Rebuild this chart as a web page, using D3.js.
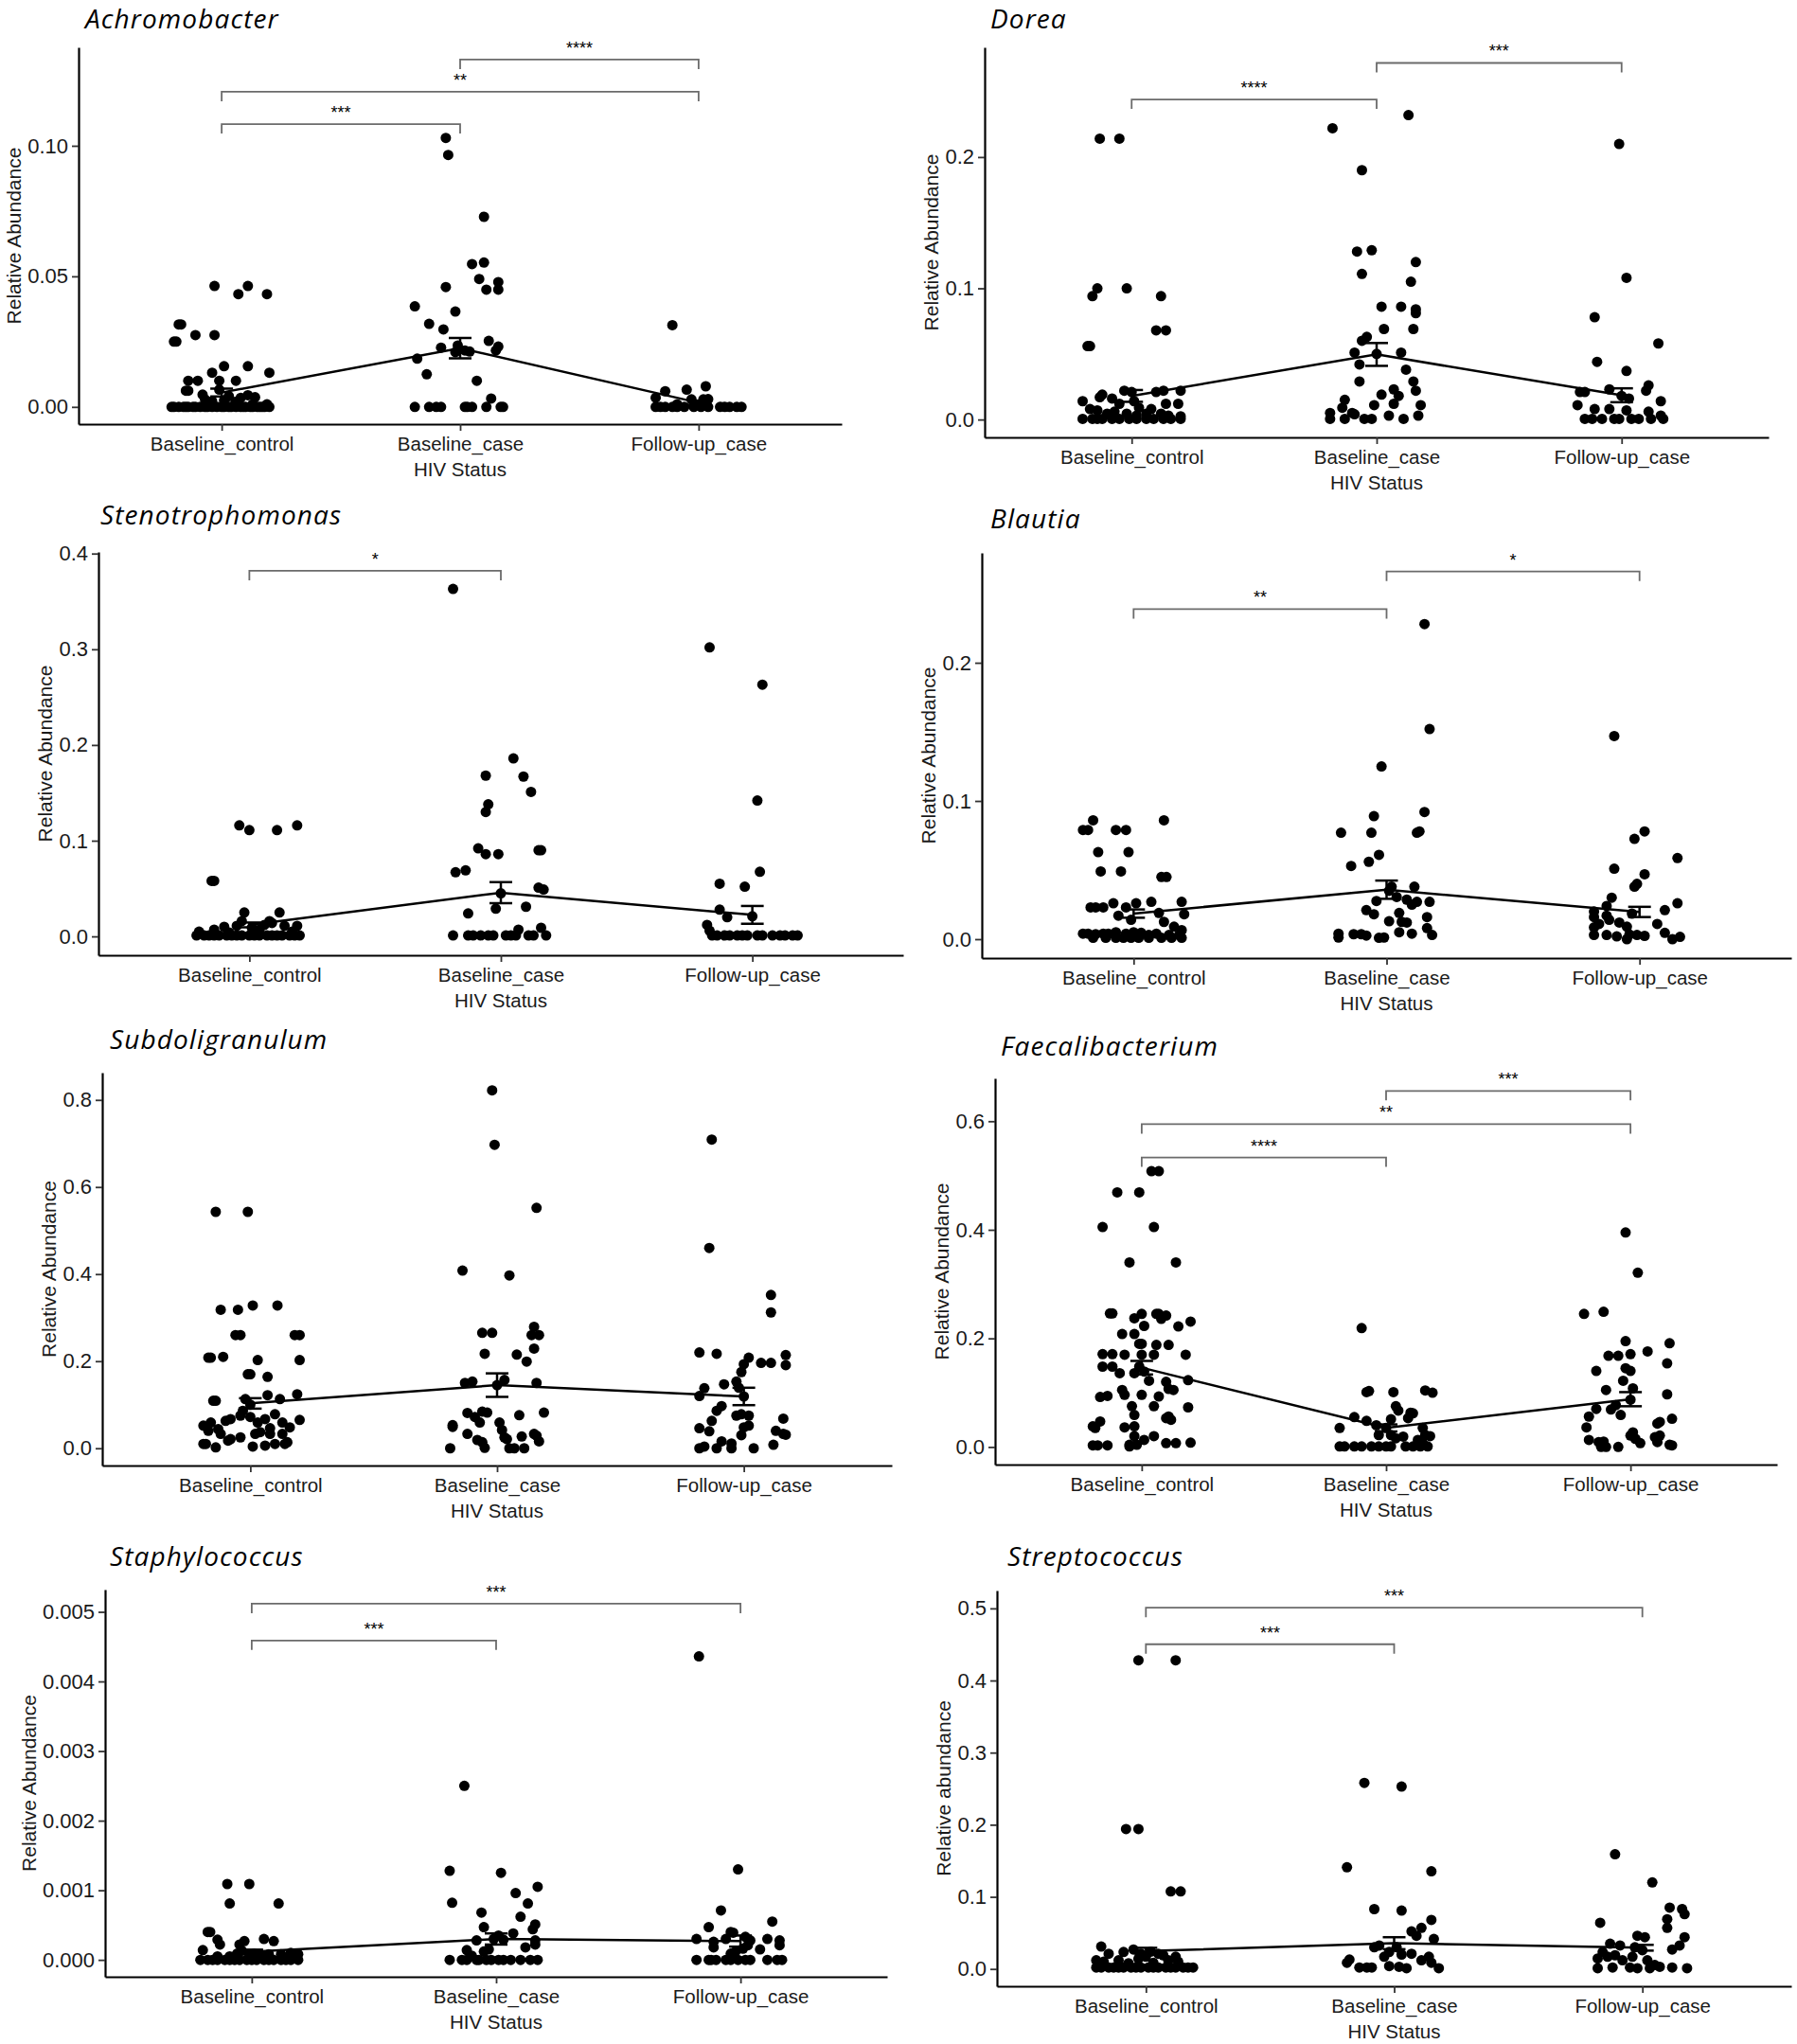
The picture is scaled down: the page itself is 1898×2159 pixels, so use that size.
<!DOCTYPE html>
<html>
<head>
<meta charset="utf-8">
<script src="https://cdn.jsdelivr.net/npm/d3@7"></script>
<style>
  body { margin: 0; background: #fff; }
  svg { display: block; }
</style>
</head>
<body>
<script>
// ---- data ----
var groups = ["Baseline_control", "Baseline_case", "Follow-up_case"];
var genera = ["Achromobacter", "Dorea", "Stenotrophomonas", "Blautia",
              "Subdoligranulum", "Faecalibacterium", "Staphylococcus", "Streptococcus"];
var yTitles = ["Relative Abundance", "Relative Abundance", "Relative Abundance", "Relative Abundance",
               "Relative Abundance", "Relative Abundance", "Relative Abundance", "Relative abundance"];
var yTicks = [
  [0, 0.05, 0.10],
  [0, 0.1, 0.2],
  [0, 0.1, 0.2, 0.3, 0.4],
  [0, 0.1, 0.2],
  [0, 0.2, 0.4, 0.6, 0.8],
  [0, 0.2, 0.4, 0.6],
  [0, 0.001, 0.002, 0.003, 0.004, 0.005],
  [0, 0.1, 0.2, 0.3, 0.4, 0.5]
];
var tickFormats = [".2f", ".1f", ".1f", ".1f", ".1f", ".1f", ".3f", ".1f"];

// group mean and standard error per panel (control, case, follow-up)
var meanVals = [
  [0.0055, 0.0225, 0.0016],
  [0.018, 0.0496, 0.0185],
  [0.012, 0.0457, 0.0225],
  [0.0185, 0.0358, 0.0197],
  [0.103, 0.145, 0.119],
  [0.146, 0.035, 0.088],
  [0.000117, 0.0003, 0.00027],
  [0.0248, 0.0357, 0.0294]
];
var seVals = [
  [0.0015, 0.0039, 0.0008],
  [0.0045, 0.0087, 0.0053],
  [0.0025, 0.011, 0.0093],
  [0.003, 0.0066, 0.0037],
  [0.012, 0.027, 0.02],
  [0.0125, 0.0065, 0.013],
  [0.00003, 0.00008, 0.00008],
  [0.0045, 0.0083, 0.004]
];

// significance brackets: [from group, to group, height, label]
var sigBrackets = [
  [[2, 3, 0.133, "****"], [1, 3, 0.1207, "**"], [1, 2, 0.1083, "***"]],
  [[2, 3, 0.2717, "***"], [1, 2, 0.2439, "****"]],
  [[1, 2, 0.382, "*"]],
  [[2, 3, 0.266, "*"], [1, 2, 0.2388, "**"]],
  [],
  [[2, 3, 0.6557, "***"], [1, 3, 0.5946, "**"], [1, 2, 0.5333, "****"]],
  [[1, 3, 0.005117, "***"], [1, 2, 0.004588, "***"]],
  [[1, 3, 0.501, "***"], [1, 2, 0.4503, "***"]]
];

// individual samples: [relative abundance, jitter in category units]
var achroCtrl = [[0.0463,-0.03],[0.0463,0.11],[0.0432,0.07],[0.0432,0.19],[0.0316,-0.17],[0.0316,-0.18],[0.025,-0.19],[0.025,-0.2],[0.0275,-0.11],[0.0275,-0.03],[0.0156,0.01],[0.0156,0.11],[0.0131,-0.04],[0.0131,0.2],[0.01,-0.14],[0.01,-0.1],[0.01,-0.01],[0.01,0.06],[0.0062,-0.15],[0.0062,-0.14],[0.0047,-0.08],[0.0066,-0.01],[0.0041,0.03],[0.0035,0.08],[0.0045,0.11],[0.0037,0.14],[0.0029,-0.07],[0.0022,-0.04],[0.0025,0.01],[0.002,0.06],[0.001,0.13],[0.001,0.19],[0,-0.21],[0,-0.18],[0,-0.16],[0,-0.14],[0,-0.11],[0,-0.09],[0,-0.06],[0,-0.04],[0,-0.02],[0,0.01],[0,0.03],[0,0.06],[0,0.08],[0,0.1],[0,0.13],[0,0.15],[0,0.17],[0,0.2],[0,-0.2],[0,-0.15],[0,-0.12],[0,-0.07],[0,0],[0,0.04],[0,0.09],[0,0.12],[0,0.16],[0,0.18]];
var achroCase = [[0.103,-0.06],[0.0965,-0.05],[0.0728,0.1],[0.0547,0.05],[0.0553,0.1],[0.049,0.08],[0.0478,0.16],[0.0459,-0.06],[0.0449,0.11],[0.0449,0.16],[0.0385,-0.19],[0.0365,-0.02],[0.0318,-0.13],[0.0297,-0.07],[0.0253,0.12],[0.0227,-0.08],[0.0235,-0.01],[0.0231,0.16],[0.0216,0.02],[0.0216,0.15],[0.021,-0.02],[0.0212,0.04],[0.0185,-0.18],[0.0125,-0.14],[0.01,0.07],[0.0032,0.13],[0,-0.19],[0,-0.13],[0,-0.1],[0,-0.08],[0,0.02],[0,0.03],[0,0.05],[0,0.11],[0,0.17],[0,0.18]];
var achroFU = [[0.0313,-0.11],[0.0079,0.03],[0.0066,-0.05],[0.006,-0.14],[0.0035,-0.18],[0.0029,-0.03],[0.0029,0.02],[0.003,0.04],[0.001,-0.09],[0,-0.18],[0,-0.16],[0,-0.14],[0,-0.11],[0,-0.09],[0,-0.06],[0,-0.02],[0,0.01],[0,0.04],[0,0.09],[0,0.11],[0,0.13],[0,0.16],[0,0.18]];

var doreaCtrl = [[0.214,-0.13],[0.214,-0.05],[0.1,-0.14],[0.1,-0.02],[0.094,-0.16],[0.094,0.12],[0.068,0.1],[0.068,0.14],[0.056,-0.18],[0.056,-0.17],[0.022,0.2],[0.022,0.13],[0.021,0.1],[0.022,-0.03],[0.021,0],[0.019,-0.12],[0.017,-0.13],[0.014,-0.2],[0.016,-0.08],[0.012,-0.05],[0.014,0.01],[0.009,0.03],[0.008,0.08],[0.012,0.14],[0.012,0.19],[0.008,-0.17],[0.007,-0.14],[0.0045,-0.1],[0.006,-0.07],[0.0045,-0.02],[0.003,0.02],[0.0045,0.06],[0.0045,0.12],[0.003,0.15],[0.0025,0.2],[0.0005,-0.2],[0.0005,-0.16],[0.0005,-0.14],[0.0005,-0.12],[0.0005,-0.08],[0.0005,-0.05],[0.0005,-0.01],[0.0005,0.02],[0.0005,0.06],[0.0005,0.09],[0.0005,0.13],[0.0005,0.16],[0.0005,0.2]];
var doreaCase = [[0.222,-0.18],[0.232,0.13],[0.19,-0.06],[0.128,-0.08],[0.129,-0.02],[0.12,0.16],[0.111,-0.06],[0.105,0.14],[0.086,0.02],[0.086,0.1],[0.084,0.16],[0.081,0.16],[0.069,0.03],[0.069,0.15],[0.063,-0.04],[0.06,-0.06],[0.051,-0.09],[0.051,0.1],[0.042,-0.07],[0.05,0],[0.038,0.12],[0.029,-0.07],[0.029,0.15],[0.023,0.07],[0.022,0.16],[0.019,0.02],[0.018,0.09],[0.012,0.07],[0.011,-0.01],[0.015,-0.13],[0.009,-0.14],[0.005,-0.1],[0.004,-0.09],[0.005,-0.19],[0.003,0.05],[0.011,0.18],[0.003,0.17],[0.0005,-0.19],[0.0005,-0.13],[0.0005,-0.05],[0.0005,-0.02],[0.0005,0.11]];
var doreaFU = [[0.21,-0.01],[0.108,0.02],[0.078,-0.11],[0.058,0.15],[0.044,-0.1],[0.037,0.02],[0.026,0.11],[0.021,-0.17],[0.021,-0.15],[0.023,-0.05],[0.022,0.1],[0.018,0],[0.016,0.03],[0.014,0.16],[0.011,-0.18],[0.008,-0.11],[0.008,-0.05],[0.007,0.02],[0.006,0.11],[0.003,0.16],[0.0005,-0.15],[0.0005,-0.12],[0.0005,-0.08],[0.0005,-0.03],[0.0005,-0.01],[0.0005,0.04],[0.0005,0.07],[0.0005,0.12],[0.0005,0.17]];

var stenoCtrl = [[0.116,-0.04],[0.111,0],[0.111,0.11],[0.116,0.19],[0.058,-0.15],[0.058,-0.14],[0.025,-0.02],[0.025,0.12],[0.016,0.08],[0.014,0.09],[0.012,0.06],[0.011,0.14],[0.011,0.19],[0.01,-0.1],[0.011,-0.05],[0.016,-0.03],[0.005,-0.2],[0.007,-0.14],[0.004,-0.08],[0.009,0.01],[0.007,0.04],[0.005,0.17],[0.001,-0.21],[0.001,-0.18],[0.001,-0.16],[0.001,-0.14],[0.001,-0.12],[0.001,-0.09],[0.001,-0.07],[0.001,-0.05],[0.001,-0.03],[0.001,0],[0.001,0.02],[0.001,0.04],[0.001,0.07],[0.001,0.09],[0.001,0.11],[0.001,0.13],[0.001,0.16],[0.001,0.18],[0.001,0.2]];
var stenoCase = [[0.363,-0.19],[0.186,0.05],[0.168,-0.06],[0.167,0.09],[0.151,0.12],[0.138,-0.05],[0.13,-0.06],[0.09,0.15],[0.09,0.16],[0.092,-0.09],[0.086,-0.06],[0.086,-0.01],[0.069,-0.14],[0.067,-0.18],[0.051,0.15],[0.049,0.17],[0.045,0],[0.031,0.1],[0.029,-0.02],[0.024,-0.13],[0.009,0.16],[0.007,0.07],[0.001,-0.19],[0.001,-0.13],[0.001,-0.11],[0.001,-0.08],[0.001,-0.05],[0.001,-0.03],[0.001,0.02],[0.001,0.04],[0.001,0.06],[0.001,0.11],[0.001,0.13],[0.001,0.18]];
var stenoFU = [[0.302,-0.17],[0.263,0.04],[0.142,0.02],[0.0675,0.03],[0.055,-0.13],[0.052,-0.03],[0.028,-0.13],[0.02,-0.1],[0.021,0],[0.012,-0.18],[0.006,-0.17],[0.001,-0.16],[0.001,-0.14],[0.001,-0.11],[0.001,-0.09],[0.001,-0.06],[0.001,-0.04],[0.001,-0.02],[0.001,0.02],[0.001,0.04],[0.001,0.08],[0.001,0.11],[0.001,0.13],[0.001,0.16],[0.001,0.18]];

var blautiaCtrl = [[0.086,-0.16],[0.086,0.12],[0.079,-0.2],[0.079,-0.18],[0.079,-0.07],[0.079,-0.03],[0.063,-0.14],[0.063,-0.02],[0.049,-0.13],[0.049,-0.05],[0.045,0.11],[0.045,0.13],[0.023,-0.17],[0.023,-0.15],[0.023,-0.12],[0.026,-0.08],[0.023,-0.03],[0.026,0.01],[0.027,0.07],[0.027,0.19],[0.019,0.1],[0.018,0.2],[0.017,-0.06],[0.014,-0.01],[0.0125,0.12],[0.009,0.16],[0.0065,0.19],[0.004,-0.2],[0.004,-0.18],[0.0036,-0.15],[0.004,-0.12],[0.004,-0.1],[0.005,-0.07],[0.004,-0.03],[0.005,0],[0.0046,0.03],[0.003,0.06],[0.004,0.09],[0.003,0.14],[0.003,0.18],[0.001,-0.16],[0.001,-0.11],[0.001,-0.07],[0.001,-0.04],[0.001,-0.01],[0.001,0.02],[0.001,0.06],[0.001,0.11],[0.001,0.15],[0.001,0.19]];
var blautiaCase = [[0.228,0.15],[0.152,0.17],[0.125,-0.02],[0.092,0.15],[0.089,-0.05],[0.077,-0.18],[0.077,-0.06],[0.077,0.12],[0.078,0.13],[0.061,-0.03],[0.056,-0.07],[0.053,-0.14],[0.038,0.11],[0.038,0.02],[0.035,0.01],[0.0305,0.04],[0.0276,-0.04],[0.027,0.12],[0.027,0.17],[0.0286,0.08],[0.025,0.1],[0.021,-0.08],[0.018,-0.05],[0.019,0.05],[0.016,0.16],[0.013,0.01],[0.0125,0.06],[0.012,0.08],[0.008,0.16],[0.005,0.05],[0.004,0.1],[0.003,0.18],[0.004,-0.19],[0.0012,-0.19],[0.0036,-0.13],[0.0036,-0.1],[0.0026,-0.08],[0.001,-0.03],[0.0012,-0.01]];
var blautiaFU = [[0.147,-0.1],[0.078,0.02],[0.0726,-0.02],[0.0587,0.15],[0.051,-0.1],[0.047,0.02],[0.04,-0.01],[0.038,-0.02],[0.03,-0.11],[0.026,0.15],[0.024,-0.13],[0.02,-0.18],[0.017,-0.13],[0.021,0.1],[0.0185,-0.03],[0.016,-0.18],[0.014,-0.12],[0.012,-0.08],[0.009,-0.05],[0.011,0.07],[0.0085,-0.18],[0.011,-0.16],[0.003,-0.18],[0.003,-0.13],[0.002,-0.09],[0.0034,-0.04],[0.003,-0.01],[0.0024,0.02],[0.0046,0.1],[0,0.13],[0.0017,0.16],[0,-0.05]];

var subdoCtrl = [[0.543,-0.14],[0.543,-0.01],[0.318,-0.12],[0.318,-0.05],[0.328,0.01],[0.328,0.11],[0.26,-0.06],[0.26,-0.04],[0.26,0.18],[0.26,0.2],[0.208,-0.17],[0.208,-0.16],[0.21,-0.11],[0.2025,0.03],[0.2025,0.2],[0.17,-0.01],[0.17,0],[0.164,0.07],[0.109,-0.15],[0.109,-0.14],[0.113,-0.02],[0.122,0.07],[0.113,0.12],[0.124,0.19],[0.1,0],[0.052,-0.19],[0.059,-0.16],[0.044,-0.13],[0.063,-0.1],[0.067,-0.08],[0.075,-0.04],[0.086,-0.03],[0.072,0],[0.059,0.03],[0.067,0.06],[0.046,0.08],[0.078,0.1],[0.059,0.13],[0.048,0.16],[0.065,0.2],[0.04,-0.17],[0.033,-0.12],[0.021,-0.08],[0.025,-0.04],[0.033,0.02],[0.037,0.04],[0.033,0.08],[0.033,0.13],[0.014,0.15],[0.01,-0.19],[0.01,-0.18],[0.002,-0.14],[0.0175,-0.09],[0.004,0.01],[0.006,0.06],[0.01,0.1],[0.01,0.14]];
var subdoCase = [[0.822,-0.02],[0.697,-0.01],[0.552,0.16],[0.408,-0.14],[0.397,0.05],[0.265,-0.06],[0.265,-0.02],[0.279,0.15],[0.26,0.14],[0.26,0.17],[0.229,0.15],[0.217,-0.05],[0.215,0.08],[0.199,0.12],[0.15,-0.13],[0.153,-0.1],[0.157,0.03],[0.15,0.16],[0.145,0],[0.082,0.19],[0.081,-0.12],[0.072,-0.09],[0.084,-0.06],[0.082,-0.04],[0.059,-0.07],[0.076,0.09],[0.053,-0.18],[0.049,-0.18],[0.059,0.01],[0.042,0.02],[0.025,0.03],[0.021,0.04],[0.033,-0.12],[0.019,-0.08],[0.014,-0.06],[0.027,0.1],[0.033,0.15],[0.029,0.16],[0.016,0.17],[0,-0.19],[0.001,-0.05],[0,0.05],[0,0.07],[0,0.11]];
var subdoFU = [[0.709,-0.13],[0.46,-0.14],[0.352,0.11],[0.312,0.11],[0.22,-0.18],[0.217,-0.11],[0.208,0.02],[0.196,0.07],[0.196,0.11],[0.214,0.17],[0.191,0.17],[0.193,0],[0.175,-0.01],[0.153,-0.03],[0.147,-0.08],[0.138,-0.16],[0.12,-0.18],[0.119,0],[0.139,-0.02],[0.097,-0.09],[0.086,-0.11],[0.075,-0.03],[0.078,-0.01],[0.075,0.02],[0.068,0.16],[0.063,-0.13],[0.052,0.02],[0.048,0],[0.046,-0.18],[0.039,-0.14],[0.04,0.13],[0.033,0.16],[0.031,0.17],[0.03,-0.01],[0.004,-0.16],[0.016,-0.09],[0.011,-0.05],[0.008,0.12],[0,-0.18],[0,-0.11],[0,-0.05],[0,0.04]];

var faecaliCtrl = [[0.508,0.04],[0.508,0.07],[0.469,-0.1],[0.469,-0.01],[0.405,-0.16],[0.405,0.05],[0.34,-0.05],[0.34,0.14],[0.246,-0.13],[0.246,-0.12],[0.245,0],[0.245,0.06],[0.245,0.07],[0.242,0.1],[0.237,-0.03],[0.236,0.08],[0.231,0.2],[0.223,0.01],[0.222,0.15],[0.208,-0.08],[0.208,-0.03],[0.19,-0.01],[0.19,0],[0.188,0.06],[0.188,0.11],[0.171,-0.16],[0.171,-0.12],[0.17,-0.07],[0.17,0],[0.17,0.05],[0.17,0.18],[0.148,-0.16],[0.148,-0.12],[0.148,-0.01],[0.136,-0.09],[0.136,-0.03],[0.139,0.01],[0.12,0.1],[0.123,0.19],[0.122,0.03],[0.105,-0.08],[0.107,0.11],[0.105,0.13],[0.092,-0.17],[0.094,-0.14],[0.096,-0.07],[0.096,0],[0.093,0.07],[0.075,-0.04],[0.075,0.05],[0.073,0.19],[0.059,-0.03],[0.056,0.11],[0.05,0.12],[0.053,0.1],[0.047,-0.17],[0.038,-0.2],[0.035,-0.19],[0.036,-0.07],[0.038,-0.03],[0.02,-0.03],[0.02,0.05],[0.013,0.01],[0.004,-0.05],[0.007,0.1],[0.007,0.14],[0.008,0.2],[0.003,-0.2],[0.003,-0.18],[0.003,-0.14],[0.001,-0.05],[0.004,-0.02]];
var faecaliCase = [[0.219,-0.1],[0.101,-0.08],[0.103,-0.07],[0.101,0.03],[0.104,0.16],[0.1,0.19],[0.075,0.04],[0.067,0.05],[0.063,0.1],[0.062,0.11],[0.055,-0.13],[0.048,-0.08],[0.051,0.02],[0.053,0.09],[0.035,-0.19],[0.04,-0.04],[0.035,0],[0.035,0.15],[0.022,0.16],[0.02,0.18],[0.022,-0.03],[0.022,0.02],[0.016,0.04],[0.019,0.07],[0.013,0.13],[0.007,0.15],[0.001,-0.19],[0.001,-0.17],[0.001,-0.13],[0.001,-0.1],[0.001,-0.06],[0.001,-0.03],[0.001,0],[0.001,0.02],[0.001,0.08],[0.001,0.11],[0.001,0.14],[0.001,0.17]];
var faecaliFU = [[0.395,-0.02],[0.321,0.03],[0.245,-0.19],[0.249,-0.11],[0.195,-0.02],[0.191,0.16],[0.176,0.07],[0.168,-0.09],[0.168,-0.05],[0.171,0],[0.154,0.15],[0.145,-0.02],[0.14,0],[0.14,-0.14],[0.122,-0.03],[0.105,-0.1],[0.108,0.01],[0.097,0.15],[0.087,0],[0.07,-0.14],[0.069,-0.08],[0.077,-0.06],[0.056,-0.17],[0.059,-0.04],[0.052,0.17],[0.046,0.12],[0.043,0.11],[0.036,-0.18],[0.027,0.01],[0.021,0],[0.021,0.12],[0.018,0.1],[0.015,0.02],[0.013,-0.17],[0.009,-0.13],[0.01,-0.11],[0.007,0.04],[0.009,0.11],[0.004,0.16],[0.003,0.17],[0,-0.12],[0,-0.1],[0,-0.05]];

var staphCtrl = [[0.00109,-0.1],[0.00109,-0.01],[0.00081,-0.09],[0.00081,0.11],[0.0004,-0.18],[0.0004,-0.17],[0.00029,-0.14],[0.0003,0.05],[0.00027,0.09],[0.00022,-0.13],[0.00027,-0.03],[0.00022,-0.05],[0.00014,-0.2],[0.00009,-0.06],[0.00013,-0.04],[0.00008,-0.01],[0.00009,0.01],[0.00007,0.04],[0.00008,0.07],[0.00008,0.12],[0.0001,0.16],[0.00008,0.19],[0.00005,-0.09],[0.00005,-0.14],[0,-0.21],[0,-0.18],[0,-0.16],[0,-0.14],[0,-0.11],[0,-0.09],[0,-0.07],[0,-0.05],[0,-0.02],[0,0],[0,0.02],[0,0.05],[0,0.07],[0,0.09],[0,0.12],[0,0.14],[0,0.16],[0,0.19]];
var staphCase = [[0.0025,-0.13],[0.00128,-0.19],[0.00125,0.02],[0.00105,0.17],[0.00096,0.08],[0.00082,-0.18],[0.00081,0.13],[0.00068,-0.06],[0.00062,0.1],[0.00051,0.16],[0.00044,0.15],[0.00047,-0.05],[0.00038,0.07],[0.00035,0.01],[0.00029,0.03],[0.00028,-0.08],[0.0003,-0.01],[0.00028,0.16],[0.00022,0.16],[0.00018,0.12],[0.00015,-0.03],[0.00014,-0.12],[0.00012,-0.05],[0.00006,-0.1],[0,-0.19],[0,-0.14],[0,-0.12],[0,-0.08],[0,-0.07],[0,-0.04],[0,-0.02],[0,0.01],[0,0.03],[0,0.06],[0,0.1],[0,0.14],[0,0.17]];
var staphFU = [[0.00436,-0.17],[0.0013,-0.01],[0.00071,-0.08],[0.00055,0.13],[0.00047,-0.13],[0.0004,-0.04],[0.00039,-0.03],[0.00033,0.02],[0.0003,-0.18],[0.0003,0.11],[0.00028,0.16],[0.00026,-0.11],[0.0003,-0.06],[0.00028,0.04],[0.00021,0.03],[0.00016,0.01],[0.00018,-0.11],[0.00021,0.16],[0.00015,0.08],[0.00012,-0.02],[0.00009,-0.04],[0,-0.18],[0,-0.13],[0,-0.12],[0,-0.1],[0,-0.06],[0,-0.04],[0,-0.01],[0,0.02],[0,0.04],[0,0.11],[0,0.15],[0,0.17]];

var strepCtrl = [[0.428,-0.03],[0.428,0.12],[0.194,-0.08],[0.194,-0.03],[0.1075,0.1],[0.1075,0.14],[0.031,-0.18],[0.021,-0.15],[0.0235,-0.09],[0.027,-0.05],[0.021,-0.02],[0.024,0.02],[0.021,0.05],[0.019,0.07],[0.017,0.12],[0.012,-0.2],[0.01,-0.17],[0.012,-0.11],[0.008,-0.07],[0.014,-0.03],[0.017,0],[0.0085,0.03],[0.012,0.09],[0.01,0.13],[0.002,-0.2],[0.002,-0.18],[0.002,-0.15],[0.002,-0.13],[0.002,-0.11],[0.002,-0.09],[0.002,-0.06],[0.002,-0.04],[0.002,-0.02],[0.002,0.01],[0.002,0.03],[0.002,0.05],[0.002,0.08],[0.002,0.1],[0.002,0.12],[0.002,0.15],[0.002,0.17],[0.002,0.19]];
var strepCase = [[0.258,-0.12],[0.253,0.03],[0.141,-0.19],[0.1355,0.15],[0.083,-0.08],[0.081,0.03],[0.068,0.15],[0.057,0.11],[0.052,0.07],[0.0415,0.16],[0.046,0.09],[0.03,-0.08],[0.0325,-0.06],[0.0235,-0.02],[0.03,0.01],[0.02,0.03],[0.021,0.07],[0.013,-0.18],[0.0086,-0.19],[0.017,-0.04],[0.012,0.11],[0.017,0.14],[0.0086,0.15],[0.002,-0.14],[0.002,-0.11],[0.002,-0.09],[0.004,-0.02],[0.001,0.05],[0.001,0.18],[0.003,0.02]];
var strepFU = [[0.159,-0.11],[0.12,0.04],[0.085,0.11],[0.083,0.16],[0.076,0.17],[0.064,-0.17],[0.069,0.1],[0.057,0.1],[0.046,-0.02],[0.044,0.01],[0.044,0.17],[0.035,-0.13],[0.0325,-0.09],[0.03,-0.03],[0.0325,0.15],[0.0235,-0.16],[0.019,-0.11],[0.026,0],[0.027,0.12],[0.0145,-0.18],[0.017,-0.14],[0.012,-0.08],[0.017,-0.04],[0.012,0.02],[0.0054,0.05],[0.001,-0.18],[0.002,-0.12],[0.002,-0.05],[0.001,-0.02],[0.001,0.03],[0.003,0.07],[0.002,0.12],[0.001,0.18]];

var panelPoints = [
  [achroCtrl, achroCase, achroFU],
  [doreaCtrl, doreaCase, doreaFU],
  [stenoCtrl, stenoCase, stenoFU],
  [blautiaCtrl, blautiaCase, blautiaFU],
  [subdoCtrl, subdoCase, subdoFU],
  [faecaliCtrl, faecaliCase, faecaliFU],
  [staphCtrl, staphCase, staphFU],
  [strepCtrl, strepCase, strepFU]
];

// ---- layout of each panel on the page (pixels) and its y range ----
var panelBox = [
  {x0: 83,   x1: 889,  y0: 50,   y1: 448,  lo: -0.0066,   hi: 0.1377,  tx: 90,   ty: 30},
  {x0: 1040, x1: 1868, y0: 50,   y1: 462,  lo: -0.0136,   hi: 0.2836,  tx: 1046, ty: 30},
  {x0: 104,  x1: 954,  y0: 583,  y1: 1009, lo: -0.0197,   hi: 0.4017,  tx: 106,  ty: 554},
  {x0: 1037, x1: 1892, y0: 584,  y1: 1012, lo: -0.0137,   hi: 0.2795,  tx: 1046, ty: 558},
  {x0: 108,  x1: 942,  y0: 1133, y1: 1548, lo: -0.0397,   hi: 0.8626,  tx: 116,  ty: 1108},
  {x0: 1051, x1: 1877, y0: 1139, y1: 1547, lo: -0.0325,   hi: 0.679,   tx: 1057, ty: 1115},
  {x0: 111,  x1: 937,  y0: 1679, y1: 2088, lo: -0.000243, hi: 0.00532, tx: 116,  ty: 1654},
  {x0: 1053, x1: 1892, y0: 1680, y1: 2098, lo: -0.024,    hi: 0.5248,  tx: 1064, ty: 1654}
];

var svg = d3.select("body").append("svg")
    .attr("width", 1898).attr("height", 2159)
    .style("background", "#fff");

genera.forEach(function(name, i) {
  var b = panelBox[i];
  var x = d3.scaleLinear().domain([0.4, 3.6]).range([b.x0, b.x1]);
  var y = d3.scaleLinear().domain([b.lo, b.hi]).range([b.y1, b.y0]);
  var g = svg.append("g");

  // genus name
  g.append("text")
      .attr("x", b.tx).attr("y", b.ty)
      .attr("font-family", "'Open Sans', sans-serif")
      .attr("font-style", "italic")
      .attr("font-size", 28)
      .attr("letter-spacing", 1.1)
      .attr("fill", "#000")
      .text(name);

  // jittered samples
  panelPoints[i].forEach(function(pts, k) {
    g.append("g").selectAll("circle")
      .data(pts)
      .enter().append("circle")
        .attr("cx", function(d) { return x(k + 1 + d[1]); })
        .attr("cy", function(d) { return y(d[0]); })
        .attr("r", 5.5)
        .attr("fill", "#000");
  });

  // line through group means
  var line = d3.line()
      .x(function(d, k) { return x(k + 1); })
      .y(function(d) { return y(d); });
  g.append("path")
      .datum(meanVals[i])
      .attr("d", line)
      .attr("fill", "none")
      .attr("stroke", "#000")
      .attr("stroke-width", 2.5);

  // standard error bars
  var eb = g.append("g").attr("stroke", "#000").attr("stroke-width", 2.5);
  meanVals[i].forEach(function(m, k) {
    var cx = x(k + 1), se = seVals[i][k];
    eb.append("line").attr("x1", cx).attr("x2", cx).attr("y1", y(m - se)).attr("y2", y(m + se));
    eb.append("line").attr("x1", cx - 12).attr("x2", cx + 12).attr("y1", y(m - se)).attr("y2", y(m - se));
    eb.append("line").attr("x1", cx - 12).attr("x2", cx + 12).attr("y1", y(m + se)).attr("y2", y(m + se));
  });

  // significance brackets
  sigBrackets[i].forEach(function(s) {
    var xa = x(s[0]), xb = x(s[1]), yy = y(s[2]);
    g.append("path")
        .attr("d", "M" + xa + "," + (yy + 10) + "V" + yy + "H" + xb + "V" + (yy + 10))
        .attr("fill", "none")
        .attr("stroke", "#6b6b6b")
        .attr("stroke-width", 1.8);
    g.append("text")
        .attr("x", (xa + xb) / 2).attr("y", yy - 6)
        .attr("text-anchor", "middle")
        .attr("font-family", "'Liberation Sans', Arial, sans-serif")
        .attr("font-size", 18)
        .attr("fill", "#000")
        .text(s[3]);
  });

  // x axis
  var xg = g.append("g")
      .attr("transform", "translate(0," + b.y1 + ")")
      .call(d3.axisBottom(x).tickValues([1, 2, 3])
            .tickFormat(function(d) { return groups[d - 1]; })
            .tickSize(7).tickSizeOuter(0).tickPadding(6));

  // y axis
  var yg = g.append("g")
      .attr("transform", "translate(" + b.x0 + ",0)")
      .call(d3.axisLeft(y).tickValues(yTicks[i])
            .tickFormat(d3.format(tickFormats[i]))
            .tickSize(7).tickSizeOuter(0).tickPadding(4));

  xg.attr("font-size", 20.5);
  yg.attr("font-size", 22);
  [xg, yg].forEach(function(ax) {
    ax.attr("font-family", "'Liberation Sans', Arial, sans-serif");
    ax.select(".domain").attr("stroke", "#000").attr("stroke-width", 2.2);
    ax.selectAll(".tick line").attr("stroke", "#333").attr("stroke-width", 1.8);
    ax.selectAll(".tick text").attr("fill", "#1a1a1a");
  });

  // axis titles
  g.append("text")
      .attr("x", x(2)).attr("y", b.y1 + 55)
      .attr("text-anchor", "middle")
      .attr("font-family", "'Liberation Sans', Arial, sans-serif")
      .attr("font-size", 20.5)
      .attr("fill", "#1a1a1a")
      .text("HIV Status");

  var bb = yg.node().getBBox();
  var lx = b.x0 + bb.x - 7;
  g.append("text")
      .attr("transform", "translate(" + lx + "," + ((b.y0 + b.y1) / 2) + ") rotate(-90)")
      .attr("text-anchor", "middle")
      .attr("font-family", "'Liberation Sans', Arial, sans-serif")
      .attr("font-size", 21)
      .attr("fill", "#1a1a1a")
      .text(yTitles[i]);
});
</script>
</body>
</html>
